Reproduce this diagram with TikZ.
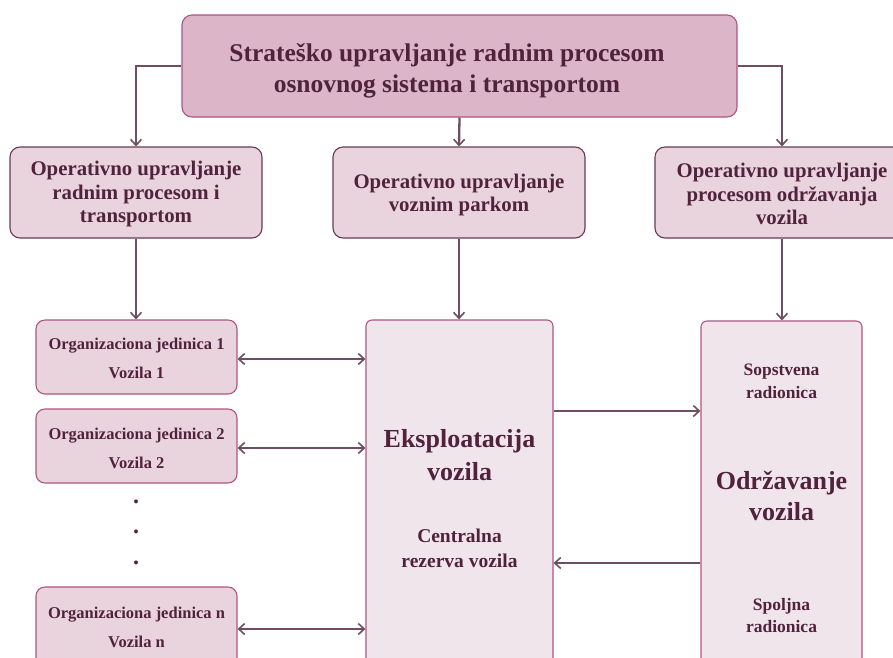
\documentclass[tikz,border=0pt]{standalone}
\usepackage{fontspec}
\setmainfont{Liberation Serif}
\usetikzlibrary{arrows.meta}
\definecolor{topfill}{RGB}{221,181,200}
\definecolor{midfill}{RGB}{233,212,222}
\definecolor{bigfill}{RGB}{241,229,236}
\definecolor{pinkline}{RGB}{176,84,128}
\definecolor{darkline}{RGB}{105,58,85}
\definecolor{conn}{RGB}{110,78,98}
\definecolor{txt}{RGB}{80,34,60}
\tikzset{
  box/.style={rectangle, rounded corners=10pt, line width=1.1pt, inner sep=0pt, text=txt, font=\bfseries, align=center},
  topbox/.style={box, fill=topfill, draw=pinkline},
  opbox/.style={box, fill=midfill, draw=darkline, minimum width=252pt, minimum height=91pt},
  orgbox/.style={box, fill=midfill, draw=pinkline, minimum width=201pt, rounded corners=9pt},
  bigbox/.style={box, fill=bigfill, draw=pinkline, rounded corners=6pt},
  lbl/.style={inner sep=0pt, text=txt, font=\bfseries, align=center},
  tip/.style={},
  conline/.style={draw=conn, line width=2.3pt, -{Straight Barb[length=6pt,width=11pt,line width=1.6pt]}},
  dblline/.style={draw=conn, line width=2.3pt, {Straight Barb[length=6pt,width=11pt,line width=1.6pt]}-{Straight Barb[length=6pt,width=11pt,line width=1.6pt]}}
}
\begin{document}
\begin{tikzpicture}[x=1pt,y=-1pt]
\useasboundingbox (0,0) rectangle (893,657);
\clip (0,0) rectangle (893,657);
% top
\node[topbox, minimum width=555pt, minimum height=102pt] (top) at (459.5,66) {};
\node[lbl, font=\bfseries\fontsize{25.5}{31}\selectfont] (toptxt) at (447,71) {Strateško upravljanje radnim procesom\\osnovnog sistema i transportom};
% row 2
\node[opbox] (op1) at (136,192.5) {};
\node[opbox] (op2) at (459,192.5) {};
\node[opbox, minimum width=254pt] (op3) at (782,192.5) {};
\node[lbl, font=\bfseries\fontsize{20.8}{23.5}\selectfont] (op1t) at (136,194) {Operativno upravljanje\\radnim procesom i\\transportom};
\node[lbl, font=\bfseries\fontsize{20.8}{23.5}\selectfont] (op2t) at (459,195) {Operativno upravljanje\\voznim parkom};
\node[lbl, font=\bfseries\fontsize{20.8}{23.5}\selectfont] (op3t) at (782,194) {Operativno upravljanje\\procesom održavanja\\vozila};
% row 3 left
\node[orgbox, minimum height=74pt] (org1) at (136.5,357) {};
\node[orgbox, minimum height=74pt] (org2) at (136.5,446) {};
\node[orgbox, minimum height=84pt] (orgn) at (136.5,629) {};
\node[lbl, font=\bfseries\fontsize{16.5}{29}\selectfont] (org1t) at (136.5,358) {Organizaciona jedinica 1\\Vozila 1};
\node[lbl, font=\bfseries\fontsize{16.5}{29}\selectfont] (org2t) at (136.5,448) {Organizaciona jedinica 2\\Vozila 2};
\node[lbl, font=\bfseries\fontsize{16.5}{29}\selectfont] (orgnt) at (136.5,627) {Organizaciona jedinica n\\Vozila n};
\node[lbl, font=\bfseries\fontsize{24}{30.5}\selectfont] (dots) at (136,532) {.\\.\\.};
% big boxes
\node[bigbox, minimum width=187pt, minimum height=360pt] (eks) at (459.5,500) {};
\node[bigbox, minimum width=161pt, minimum height=360pt] (odr) at (781.5,501) {};
\node[lbl, font=\bfseries\fontsize{26}{33}\selectfont] (ekst) at (459.5,455) {Eksploatacija\\vozila};
\node[lbl, font=\bfseries\fontsize{19.5}{25}\selectfont] (cent) at (459.5,548) {Centralna\\rezerva vozila};
\node[lbl, font=\bfseries\fontsize{17.5}{23}\selectfont] (sops) at (781.5,381) {Sopstvena\\radionica};
\node[lbl, font=\bfseries\fontsize{26}{31}\selectfont] (odrt) at (781.5,496) {Održavanje\\vozila};
\node[lbl, font=\bfseries\fontsize{17.5}{22}\selectfont] (spol) at (781.5,615) {Spoljna\\radionica};
% connectors
\draw[conline] (top.west) -| (op1.north);
\draw[conline] (top.east) -| (op3.north);
\draw[conline] (top.south) -- (op2.north);
\draw[conline] (op1.south) -- (org1.north -| op1.south);
\draw[conline] (op2.south) -- (eks.north -| op2.south);
\draw[conline] (op3.south) -- (odr.north -| op3.south);
\draw[dblline] ([yshift=-2pt]org1.east) -- ([yshift=-2pt]org1.east -| eks.west);
\draw[dblline] ([yshift=-2pt]org2.east) -- ([yshift=-2pt]org2.east -| eks.west);
\draw[dblline] (orgn.east) -- (orgn.east -| eks.west);
\draw[conline] ([yshift=89pt]eks.east) -- ([yshift=89pt]eks.east -| odr.west);
\draw[conline] ([yshift=-63pt]eks.east -| odr.west) -- ([yshift=-63pt]eks.east);
\end{tikzpicture}
\end{document}
